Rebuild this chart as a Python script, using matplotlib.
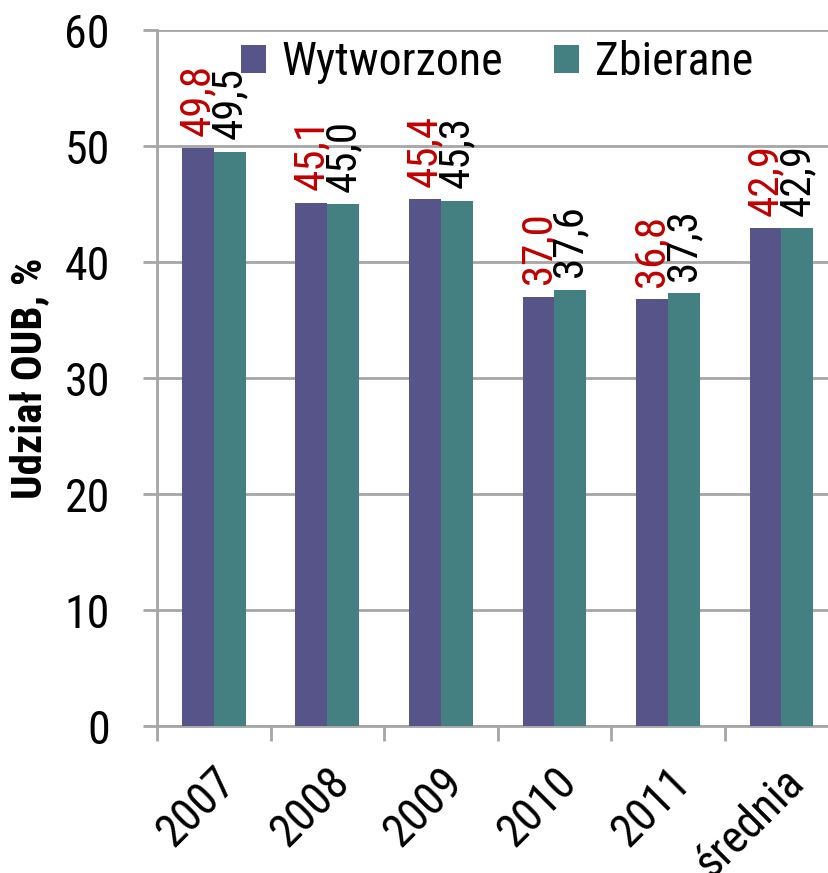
import numpy as np
import matplotlib
matplotlib.use('Agg')
import matplotlib.pyplot as plt
from matplotlib.ticker import FixedLocator

# narrow sans face, close to the Arial Narrow of the original
plt.rcParams['font.family'] = ['Roboto Condensed', 'DejaVu Sans']

categories = ['2007', '2008', '2009', '2010', '2011', 'średnia']
wytworzone = [49.8, 45.1, 45.4, 37.0, 36.8, 42.9]
zbierane = [49.5, 45.0, 45.3, 37.6, 37.3, 42.9]
wyt_labels = ['49,8', '45,1', '45,4', '37,0', '36,8', '42,9']
zb_labels = ['49,5', '45,0', '45,3', '37,6', '37,3', '42,9']

purple = '#565489'
teal = '#448081'
grid_gray = '#a6a6a6'

fig = plt.figure(figsize=(8.29, 8.73), dpi=100)
ax = fig.add_axes([157 / 829, 1 - 726 / 873, 1 - 157 / 829, (726 - 30) / 873])

x = np.arange(len(categories))
w = 0.28
ax.bar(x - w / 2, wytworzone, w, color=purple, label='Wytworzone', zorder=3)
ax.bar(x + w / 2, zbierane, w, color=teal, label='Zbierane', zorder=3)

# value labels, rotated like in the original
for xi, v, t in zip(x, wytworzone, wyt_labels):
    ax.annotate(t, (xi - w / 2, v), xytext=(0, 9), textcoords='offset points',
                rotation=90, ha='center', va='bottom', fontsize=31, color='#c00000')
for xi, v, t in zip(x, zbierane, zb_labels):
    ax.annotate(t, (xi + w / 2, v), xytext=(0, 9), textcoords='offset points',
                rotation=90, ha='center', va='bottom', fontsize=31, color='black')

ax.set_ylim(0, 60)
ax.set_xlim(-0.5, 5.42)
ax.set_yticks(np.arange(0, 61, 10))
ax.yaxis.grid(True, color=grid_gray, linewidth=2, zorder=0)
ax.set_axisbelow(True)

ax.set_xticks(x)
ax.set_xticklabels(categories, rotation=45, ha='right', rotation_mode='anchor', fontsize=33)
ax.xaxis.set_minor_locator(FixedLocator(np.arange(-0.5, 6, 1)))
ax.tick_params(axis='x', which='major', length=0, pad=24)
ax.tick_params(axis='x', which='minor', length=11, width=2, color=grid_gray)
ax.tick_params(axis='y', length=10, width=2, color=grid_gray, labelsize=33, pad=24)

for s in ['top', 'right']:
    ax.spines[s].set_visible(False)
for s in ['left', 'bottom']:
    ax.spines[s].set_color(grid_gray)
    ax.spines[s].set_linewidth(2)

ax.set_ylabel('Udział OUB, %', fontsize=31, fontweight='bold', labelpad=10)

ax.legend(loc='center', bbox_to_anchor=(0.506, 0.954), ncol=2, frameon=False,
          fontsize=33, handlelength=0.55, handleheight=0.55, handletextpad=0.35,
          columnspacing=1.1, borderpad=0.1)

fig.savefig('out.png', dpi=100)
